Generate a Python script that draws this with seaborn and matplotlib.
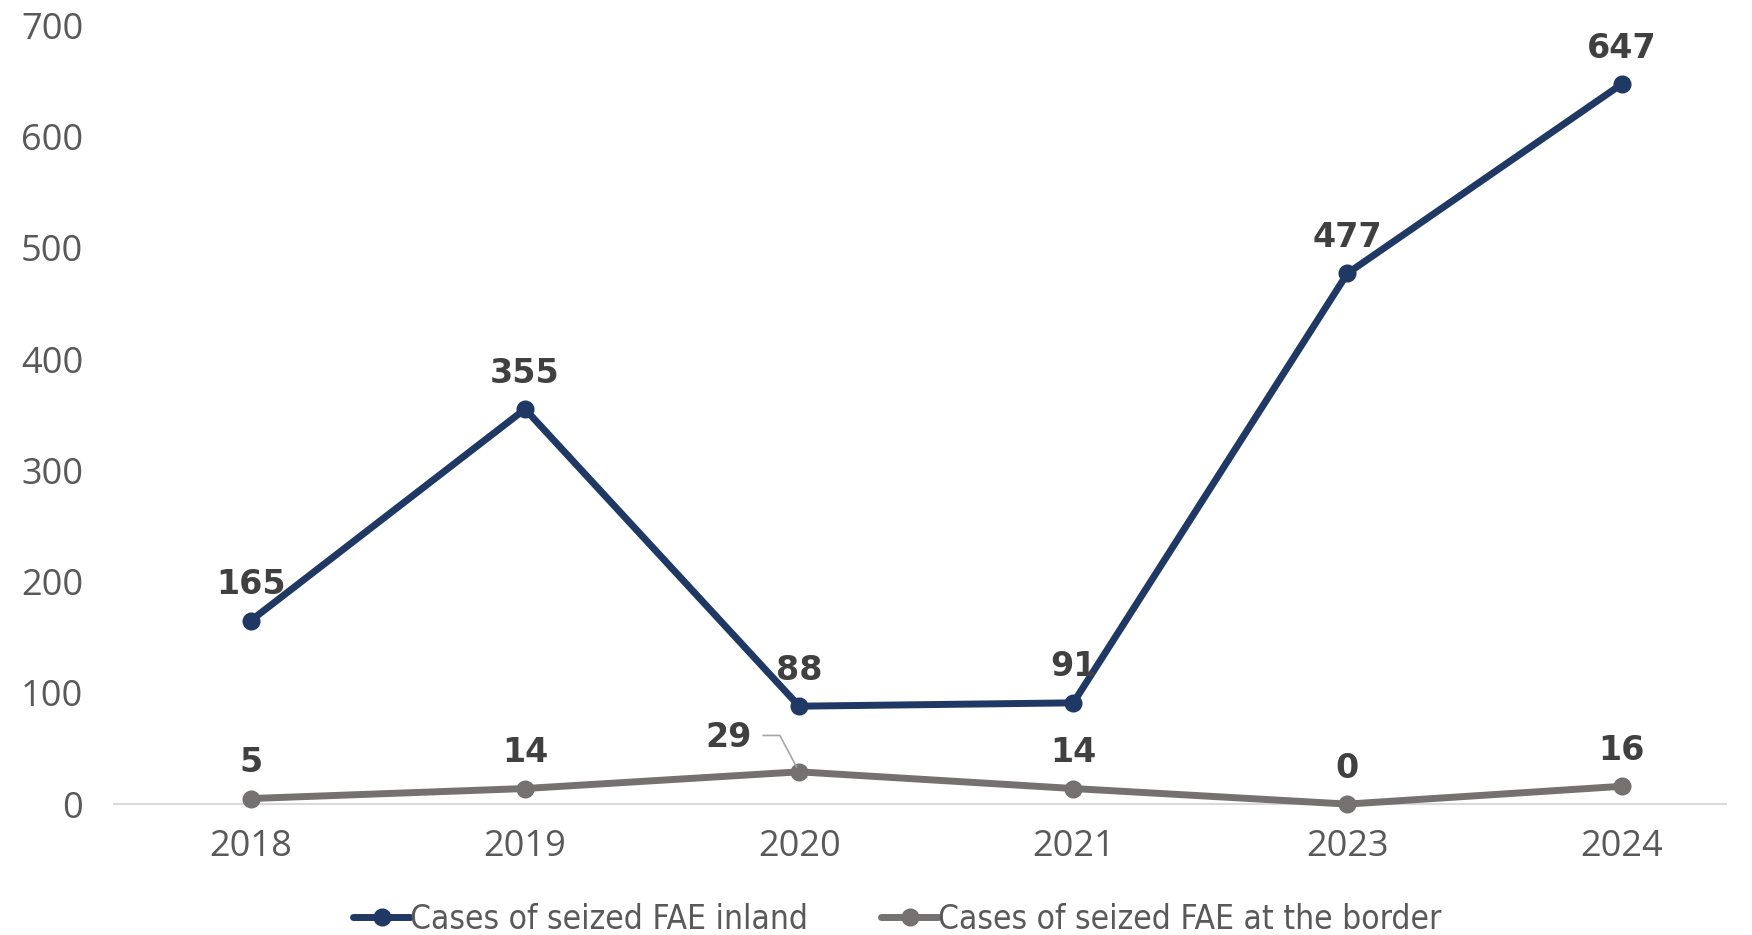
import pandas as pd
import matplotlib.pyplot as plt
import seaborn as sns

# values
years = ["2018", "2019", "2020", "2021", "2023", "2024"]
inland = [165, 355, 88, 91, 477, 647]
border = [5, 14, 29, 14, 0, 16]

inland_name = "Cases of seized FAE inland"
border_name = "Cases of seized FAE at the border"

df = pd.DataFrame({
    "Year": years * 2,
    "Cases": inland + border,
    "Series": [inland_name] * len(years) + [border_name] * len(years),
})

sns.set_style("white")
plt.rcParams['font.family'] = ['Open Sans', 'DejaVu Sans']

navy = "#1F3864"
grey = "#767171"
label_col = "#404040"
label_font = dict(family="DejaVu Sans", fontweight="bold", fontsize=24, color=label_col)

fig = plt.figure(figsize=(17.52, 9.35), dpi=100)
ax = fig.add_axes([0.065, 0.14, 0.92, 0.833])

sns.lineplot(data=df, x="Year", y="Cases", hue="Series",
             palette={inland_name: navy, border_name: grey},
             marker="o", markersize=13, markeredgewidth=0, linewidth=5,
             sort=False, ax=ax)
# keep the marker at zero fully visible
for line in ax.lines:
    line.set_clip_on(False)

ax.set_ylim(0, 700)
ax.set_xlim(-0.5, 5.38)
ax.set_yticks(range(0, 701, 100))
ax.tick_params(axis="both", length=0, labelsize=26, labelcolor="#595959")
ax.tick_params(axis="x", pad=18)
ax.tick_params(axis="y", pad=22)
ax.set_xlabel("")
ax.set_ylabel("")
for s in ["top", "right", "left"]:
    ax.spines[s].set_visible(False)
ax.spines["bottom"].set_color("#D9D9D9")
ax.spines["bottom"].set_linewidth(1.5)
ax.spines["bottom"].set_zorder(0)

# data labels
for i, v in enumerate(inland):
    ax.annotate(str(v), (i, v), xytext=(0, 14), textcoords="offset points",
                ha="center", va="bottom", **label_font)
for i, v in enumerate(border):
    if years[i] == "2020":
        # label pushed to the left with a leader line
        ax.annotate(str(v), (i, v), xytext=(-51, 25), textcoords="offset points",
                    ha="center", va="center", **label_font,
                    arrowprops=dict(arrowstyle="-", color="#A6A6A6", lw=1.2,
                                    relpos=(1, 0.55), shrinkA=6, shrinkB=4,
                                    connectionstyle="angle,angleA=0,angleB=118,rad=0"))
    else:
        ax.annotate(str(v), (i, v), xytext=(0, 14), textcoords="offset points",
                    ha="center", va="bottom", **label_font)

leg = ax.legend(loc="lower center", bbox_to_anchor=(0.486, -0.208), ncol=2, frameon=False,
                handlelength=1.7, handletextpad=0.0, columnspacing=2.2,
                prop={"family": "DejaVu Sans", "stretch": "condensed", "size": 24})
for t in leg.get_texts():
    t.set_color("#595959")

plt.savefig("out.png", dpi=100)
